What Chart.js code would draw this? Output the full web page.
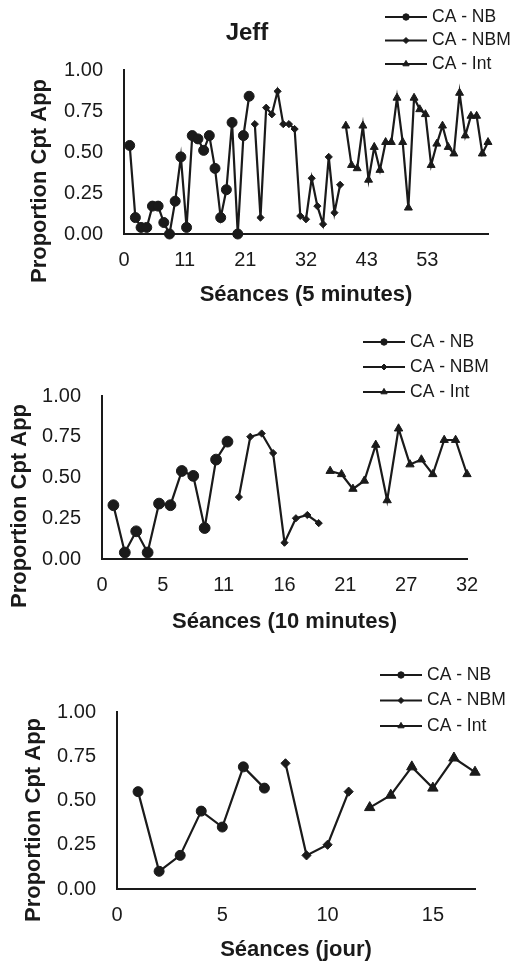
<!DOCTYPE html>
<html>
<head>
<meta charset="utf-8">
<script src="https://cdn.jsdelivr.net/npm/chart.js@4.4.1/dist/chart.umd.min.js"></script>
<style>
  body { margin: 0; background: #fff; }
  .wrap { position: relative; width: 511px; height: 963px; }
  canvas { position: absolute; left: 0; }
</style>
</head>
<body>
<div class="wrap">
  <canvas id="c1" width="511" height="318" style="top:0"></canvas>
  <canvas id="c2" width="511" height="322" style="top:318px"></canvas>
  <canvas id="c3" width="511" height="323" style="top:640px"></canvas>
</div>
<script>
// series labels
var seriesNames = ['CA - NB', 'CA - NBM', 'CA - Int'];

// panel 1 - 5 minute sessions (first session of each phase: 1, 23, 39)
var p1Start = [1, 23, 39];
var p1Nb  = [0.54, 0.10, 0.04, 0.04, 0.17, 0.17, 0.07, 0.00, 0.20, 0.47, 0.04, 0.60, 0.58, 0.51, 0.60, 0.40, 0.10, 0.27, 0.68, 0.00, 0.60, 0.84];
var p1Nbm = [0.67, 0.10, 0.77, 0.73, 0.87, 0.67, 0.67, 0.64, 0.11, 0.09, 0.34, 0.17, 0.06, 0.47, 0.13, 0.30];
var p1Int = [0.66, 0.42, 0.40, 0.66, 0.33, 0.53, 0.39, 0.56, 0.56, 0.83, 0.56, 0.16, 0.83, 0.76, 0.73, 0.42, 0.55, 0.66, 0.53, 0.49, 0.86, 0.60, 0.72, 0.72, 0.49, 0.56];
var p1TickVals = [0, 10.667, 21.333, 32, 42.667, 53.333];
var p1TickLabels = ['0', '11', '21', '32', '43', '53'];

// panel 2 - 10 minute sessions
var p2Start = [1, 12, 20];
var p2Nb  = [0.33, 0.04, 0.17, 0.04, 0.34, 0.33, 0.54, 0.51, 0.19, 0.61, 0.72];
var p2Nbm = [0.38, 0.75, 0.77, 0.65, 0.10, 0.25, 0.27, 0.22];
var p2Int = [0.54, 0.52, 0.43, 0.48, 0.70, 0.36, 0.80, 0.58, 0.61, 0.52, 0.73, 0.73, 0.52];
var p2TickVals = [0, 5.333, 10.667, 16, 21.333, 26.667, 32];
var p2TickLabels = ['0', '5', '11', '16', '21', '27', '32'];

// panel 3 - daily sessions
var p3Start = [1, 8, 12];
var p3Nb  = [0.55, 0.10, 0.19, 0.44, 0.35, 0.69, 0.57];
var p3Nbm = [0.71, 0.19, 0.25, 0.55];
var p3Int = [0.46, 0.53, 0.69, 0.57, 0.74, 0.66];
var p3TickVals = [0, 5, 10, 15];
var p3TickLabels = ['0', '5', '10', '15'];

var yTickVals = [0, 0.25, 0.5, 0.75, 1];

var ink = '#1a1a1a';
var FONT = '"Liberation Sans", Arial, Helvetica, sans-serif';
Chart.defaults.font.family = FONT;
Chart.defaults.color = ink;

function toPoints(start, vals) {
    return vals.map(function(v, i) { return {x: start + i, y: v}; });
}

// title, rotated y title and the stacked legend
var decor = {
    id: 'decor',
    afterDraw: function(chart, args, o) {
        var ctx = chart.ctx;
        ctx.save();
        ctx.fillStyle = ink;
        ctx.strokeStyle = ink;
        if (o.title) {
            ctx.font = 'bold 24px ' + FONT;
            ctx.textAlign = 'center';
            ctx.textBaseline = 'middle';
            ctx.fillText(o.title, o.titleX, o.titleY);
        }

        ctx.save();
        ctx.translate(o.yTitleX, o.yTitleY);
        ctx.rotate(-Math.PI / 2);
        ctx.font = 'bold 22px ' + FONT;
        ctx.textAlign = 'center';
        ctx.textBaseline = 'middle';
        ctx.fillText(o.yTitle, 0, 0);
        ctx.restore();

        var radii = [3.2, 3, 3.6];
        chart.data.datasets.forEach(function(ds, i) {
            var y = o.legendY + i * o.legendGap;
            ctx.lineWidth = 2;
            ctx.beginPath();
            ctx.moveTo(o.legendX, y);
            ctx.lineTo(o.legendX + 42, y);
            ctx.stroke();
            ctx.lineWidth = 1;
            Chart.helpers.drawPoint(ctx, {pointStyle: ds.pointStyle, rotation: 0, radius: radii[i], borderWidth: 1}, o.legendX + 21, y);
            ctx.font = '17.5px ' + FONT;
            ctx.textAlign = 'left';
            ctx.textBaseline = 'middle';
            ctx.fillText(ds.label, o.legendX + 47, y);
        });
        ctx.restore();
    }
};

function makePanel(id, p) {
    var styles = ['circle', 'rectRot', 'triangle'];
    var datasets = p.series.map(function(vals, i) {
        return {
            label: seriesNames[i],
            data: toPoints(p.start[i], vals),
            borderColor: ink,
            backgroundColor: ink,
            borderWidth: 2.2,
            pointStyle: styles[i],
            pointRadius: p.radius[i],
            pointBorderWidth: 1,
            tension: 0,
            clip: false
        };
    });

    return new Chart(document.getElementById(id), {
        type: 'line',
        data: { datasets: datasets },
        plugins: [decor],
        options: {
            responsive: false,
            animation: false,
            layout: { padding: { top: p.top, right: p.right, left: 0, bottom: 0 } },
            plugins: {
                legend: { display: false },
                tooltip: { enabled: false },
                decor: p.decor
            },
            scales: {
                x: {
                    type: 'linear',
                    min: 0,
                    max: p.max,
                    grid: { display: false, drawTicks: false },
                    border: { display: true, color: ink, width: 2 },
                    afterBuildTicks: function(s) {
                        s.ticks = p.tickVals.map(function(v) { return {value: v}; });
                    },
                    ticks: {
                        autoSkip: false,
                        maxRotation: 0,
                        padding: 14,
                        color: ink,
                        font: { size: 20 },
                        callback: function(v, i) { return p.tickLabels[i]; }
                    },
                    title: {
                        display: true,
                        text: p.xTitle,
                        color: ink,
                        font: { size: 22, weight: 'bold' },
                        padding: { top: 0, bottom: p.xTitlePad }
                    },
                    afterFit: function(s) { s.height = p.xHeight; }
                },
                y: {
                    min: 0,
                    max: 1,
                    grid: { display: false, drawTicks: false },
                    border: { display: true, color: ink, width: 2 },
                    afterBuildTicks: function(s) {
                        s.ticks = yTickVals.map(function(v) { return {value: v}; });
                    },
                    ticks: {
                        padding: 21,
                        color: ink,
                        font: { size: 20 },
                        callback: function(v) { return v.toFixed(2); }
                    },
                    afterFit: function(s) { s.width = p.left; }
                }
            }
        }
    });
}

makePanel('c1', {
    series: [p1Nb, p1Nbm, p1Int], start: p1Start, radius: [5, 3.6, 4.6],
    max: 64, tickVals: p1TickVals, tickLabels: p1TickLabels,
    top: 70, right: 23, left: 124, xHeight: 84, xTitlePad: 10,
    xTitle: 'Séances (5 minutes)',
    decor: { title: 'Jeff', titleX: 247, titleY: 33, yTitle: 'Proportion Cpt App', yTitleX: 40, yTitleY: 181,
             legendX: 385, legendY: 17, legendGap: 23.5 }
});

makePanel('c2', {
    series: [p2Nb, p2Nbm, p2Int], start: p2Start, radius: [5.4, 3.6, 4.8],
    max: 32, tickVals: p2TickVals, tickLabels: p2TickLabels,
    top: 78, right: 44, left: 102, xHeight: 81, xTitlePad: 5,
    xTitle: 'Séances (10 minutes)',
    decor: { yTitle: 'Proportion Cpt App', yTitleX: 20, yTitleY: 188,
             legendX: 363, legendY: 24, legendGap: 25 }
});

makePanel('c3', {
    series: [p3Nb, p3Nbm, p3Int], start: p3Start, radius: [5, 4.6, 6],
    max: 17, tickVals: p3TickVals, tickLabels: p3TickLabels,
    top: 72, right: 36, left: 117, xHeight: 74, xTitlePad: 0,
    xTitle: 'Séances (jour)',
    decor: { yTitle: 'Proportion Cpt App', yTitleX: 34, yTitleY: 180,
             legendX: 380, legendY: 35, legendGap: 25.5 }
});
</script>
</body>
</html>
